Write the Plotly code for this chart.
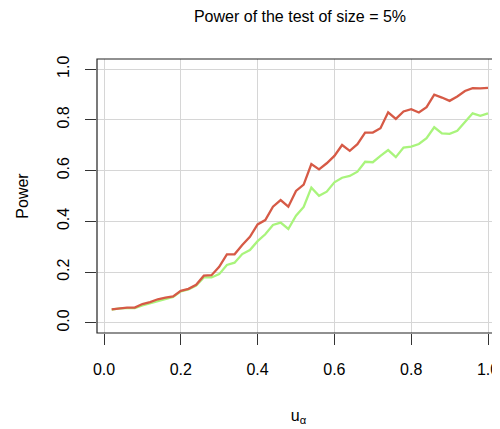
import plotly.graph_objects as go

u_alpha = [round(0.02 * k, 2) for k in range(1, 51)]

power_red = [0.053, 0.058, 0.060, 0.060, 0.074, 0.082, 0.093, 0.099, 0.104, 0.126,
             0.134, 0.150, 0.186, 0.188, 0.221, 0.270, 0.270, 0.307, 0.339, 0.388,
             0.405, 0.458, 0.484, 0.458, 0.520, 0.545, 0.626, 0.605, 0.629, 0.658,
             0.701, 0.678, 0.704, 0.750, 0.750, 0.767, 0.830, 0.804, 0.833, 0.842,
             0.829, 0.850, 0.899, 0.888, 0.875, 0.892, 0.914, 0.925, 0.924, 0.926]

power_green = [0.052, 0.057, 0.058, 0.058, 0.069, 0.078, 0.087, 0.095, 0.102, 0.124,
               0.132, 0.147, 0.179, 0.179, 0.192, 0.228, 0.237, 0.271, 0.287, 0.322,
               0.349, 0.386, 0.395, 0.370, 0.422, 0.457, 0.533, 0.501, 0.517, 0.554,
               0.572, 0.579, 0.596, 0.635, 0.633, 0.658, 0.681, 0.653, 0.691, 0.695,
               0.705, 0.728, 0.771, 0.747, 0.745, 0.757, 0.791, 0.826, 0.816, 0.826]

tick_vals = [0.0, 0.2, 0.4, 0.6, 0.8, 1.0]
tick_text = ["0.0", "0.2", "0.4", "0.6", "0.8", "1.0"]

FONT = "Liberation Sans, Arial, sans-serif"

fig = go.Figure()
fig.add_trace(go.Scatter(x=u_alpha, y=power_green, mode="lines",
                         line=dict(color="#A9F47C", width=2.3), showlegend=False))
fig.add_trace(go.Scatter(x=u_alpha, y=power_red, mode="lines",
                         line=dict(color="#D65A46", width=2.3), showlegend=False))

# page body has an 8px margin, so the figure is laid out 8px up/left
OFF = 8
W, H = 500 - OFF, 429 - OFF
l, t = 97 - OFF, 59 - OFF
b = H - (333 - OFF)
fig.update_layout(
    width=W, height=H,
    margin=dict(l=l, r=0, t=t, b=b, pad=0),
    paper_bgcolor="white", plot_bgcolor="white",
    font=dict(family=FONT, size=16, color="black"),
    title=dict(text="Power of the test of size = 5%", x=(300 - OFF) / W, xanchor="center",
               y=1 - (16 - OFF) / H, yanchor="middle", font=dict(size=16, family=FONT)),
    xaxis=dict(range=[(97 - 104) / 384, (500 - 104) / 384],
               tickvals=tick_vals, ticktext=tick_text,
               showgrid=True, gridcolor="#D6D6D6", gridwidth=1, zeroline=False,
               ticks="outside", ticklen=11, tickcolor="#333333", tickwidth=1,
               showline=False, automargin=False, ticklabelstandoff=11,
               title=dict(text="u<sub>α</sub>", standoff=32, font=dict(size=16, family=FONT))),
    yaxis=dict(range=[-0.04, 1.04],
               tickvals=tick_vals, ticktext=tick_text, tickangle=-90,
               showgrid=True, gridcolor="#D6D6D6", gridwidth=1, zeroline=False,
               ticks="outside", ticklen=11, tickcolor="#333333", tickwidth=1,
               showline=False, automargin=False, ticklabelstandoff=10,
               title=dict(text="Power", standoff=21, font=dict(size=16, family=FONT))),
)

fig.add_shape(type="rect", xref="paper", yref="paper",
              x0=0, x1=(503 - 97) / (W - l), y0=0, y1=1,
              line=dict(color="#222222", width=1.2), layer="above")

fig.write_html("out.html")
